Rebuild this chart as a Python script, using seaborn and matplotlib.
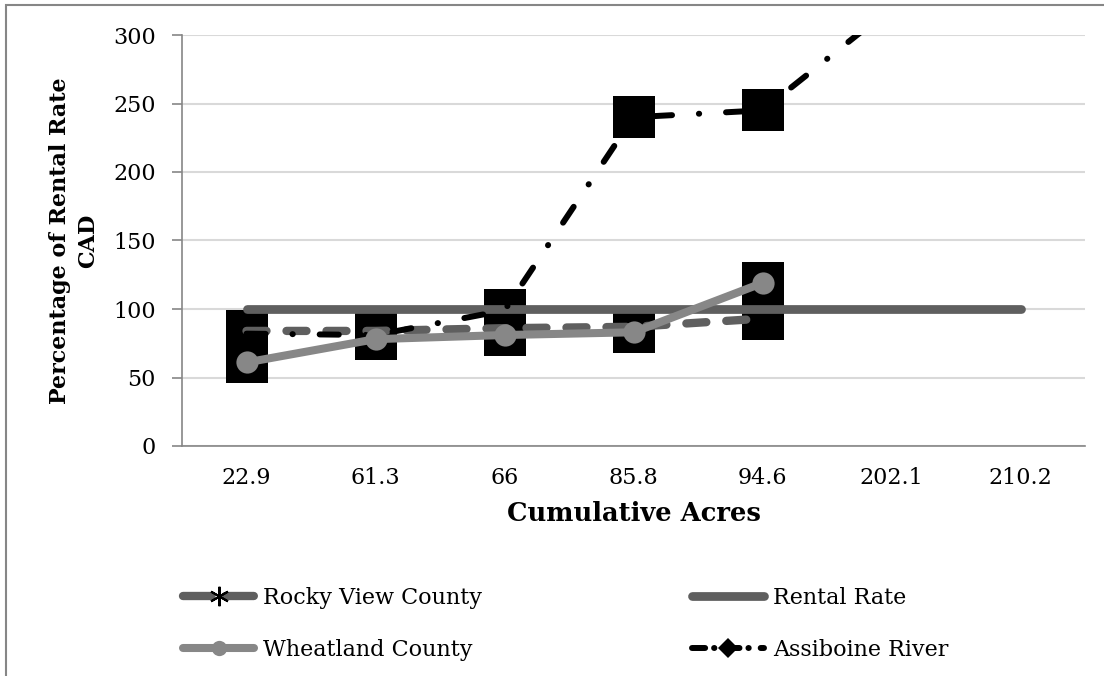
import numpy as np
import pandas as pd
import matplotlib
matplotlib.use("Agg")
import matplotlib.pyplot as plt
import seaborn as sns
from matplotlib.lines import Line2D
from matplotlib.patches import Rectangle

# data
acres = ["22.9", "61.3", "66", "85.8", "94.6", "202.1", "210.2"]
rocky_view = [84, 84, 86, 87, 93, np.nan, np.nan]
rental_rate = [100, 100, 100, 100, 100, 100, 100]
wheatland = [61, 78, 81, 83, 119, np.nan, np.nan]
assiboine = [82, 81, 99, 240, 245, 320, np.nan]
y_ticks = [0, 50, 100, 150, 200, 250, 300]

pos = np.arange(len(acres))

sns.set_style("white")
plt.rcParams["font.family"] = ["DejaVu Serif", "Liberation Serif"]
plt.rcParams["text.color"] = "black"
plt.rcParams["axes.labelcolor"] = "black"
plt.rcParams["xtick.labelcolor"] = "black"
plt.rcParams["ytick.labelcolor"] = "black"

W, H = 1104, 676
fig = plt.figure(figsize=(W / 100, H / 100), dpi=100)
ax = fig.add_axes([182 / W, 1 - 446 / H, (1085 - 182) / W, (446 - 35) / H])

dark = "#5f5f5f"
light = "#878787"

# Rental Rate
sns.lineplot(x=pos, y=rental_rate, ax=ax, color=dark, linewidth=6.3,
             solid_capstyle="round", zorder=4, sort=False)

# big black square markers
for vals in [rocky_view, wheatland, assiboine]:
    sns.scatterplot(x=pos, y=vals, ax=ax, marker="s", s=900, color="black",
                    linewidth=0, zorder=3)

# Rocky View County
sns.lineplot(x=pos, y=rocky_view, ax=ax, color=dark, linewidth=6.0,
             linestyle=(0, (2.4, 2.4)), dash_capstyle="round", zorder=5, sort=False)

# Assiboine River
sns.lineplot(x=pos, y=assiboine, ax=ax, color="black", linewidth=4.3,
             linestyle=(0, (3.2, 4.5, 0.05, 4.5)), dash_capstyle="round", zorder=6, sort=False)

# Wheatland County
sns.lineplot(x=pos, y=wheatland, ax=ax, color=light, linewidth=5.8,
             marker="o", markersize=16, markeredgewidth=0,
             solid_capstyle="round", zorder=7, sort=False)

ax.set_xlim(-0.5, len(acres) - 0.5)
ax.set_ylim(0, 300)
ax.set_yticks(y_ticks)
ax.set_xticks(pos)
ax.set_xticklabels(acres)
ax.set_xticks(np.arange(-0.5, len(acres), 1), minor=True)
ax.tick_params(axis="x", which="major", length=0, labelsize=16, pad=15)
ax.tick_params(axis="x", which="minor", length=7, width=1.2, color="#868686", direction="out")
ax.tick_params(axis="y", length=7, width=1.2, color="#868686", direction="out", labelsize=16, pad=12)
ax.tick_params(axis="both", bottom=True, left=True)
ax.yaxis.grid(True, color="#d9d9d9", linewidth=1.5, zorder=0)
ax.set_axisbelow(True)
for s in ["top", "right"]:
    ax.spines[s].set_visible(False)
for s in ["left", "bottom"]:
    ax.spines[s].set_color("#868686")
    ax.spines[s].set_linewidth(1.2)

ax.set_xlabel("Cumulative Acres", fontsize=18.5, fontweight="bold", labelpad=9)
ax.set_ylabel("Percentage of Rental Rate\nCAD", fontsize=16, fontweight="bold",
              linespacing=1.35, labelpad=10)

# legend, two columns placed separately
h_rocky = Line2D([], [], color=dark, linewidth=6, linestyle=(0, (3.4, 1.7)),
                 dash_capstyle="round", marker=(6, 2, 0), markersize=14,
                 markeredgecolor="black", markeredgewidth=1.5)
h_rental = Line2D([], [], color=dark, linewidth=6.3, solid_capstyle="round")
h_wheat = Line2D([], [], color=light, linewidth=5.8, solid_capstyle="round",
                 marker="o", markersize=11, markeredgewidth=0)
h_assi = Line2D([], [], color="black", linewidth=4.3, linestyle=(0, (2.2, 1.5, 0.05, 2)),
                dash_capstyle="round", marker="D", markersize=10, markeredgewidth=0)

leg_kw = dict(frameon=False, fontsize=16, handletextpad=0.4,
              labelspacing=1.35, borderpad=0, borderaxespad=0)
fig.legend([h_rocky, h_wheat], ["Rocky View County", "Wheatland County"],
           loc="upper left", bbox_to_anchor=(183 / W, 1 - 587 / H),
           handlelength=3.2, **leg_kw)
fig.legend([h_rental, h_assi], ["Rental Rate", "Assiboine River"],
           loc="upper left", bbox_to_anchor=(692 / W, 1 - 587 / H),
           handlelength=3.25, **leg_kw)

# chart border (cropped on right and bottom)
fig.add_artist(Rectangle((6 / W, -0.2), 1.2, 1.2 - 5 / H, transform=fig.transFigure,
                         fill=False, edgecolor="#868686", linewidth=1.5, clip_on=False))

fig.savefig("out.png", dpi=100, facecolor="white")
